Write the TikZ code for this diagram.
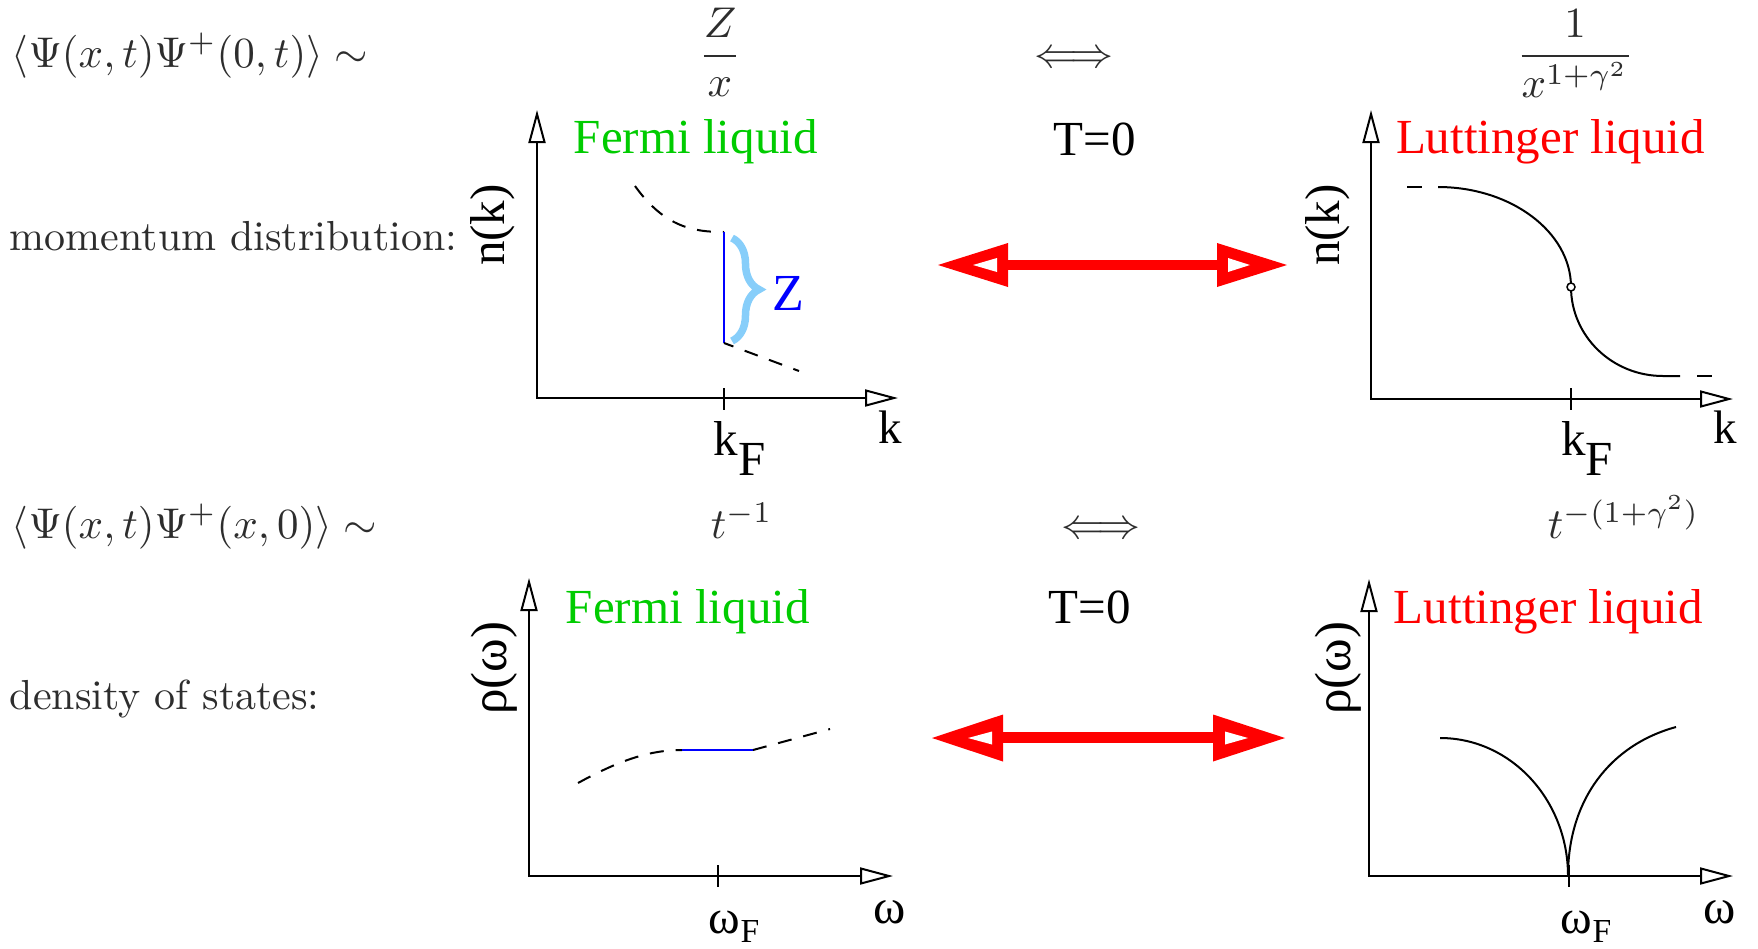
\documentclass[tikz,border=0pt]{standalone}
\usepackage{fontspec}
\newfontfamily\tms{Liberation Serif}
\usetikzlibrary{arrows.meta,decorations.pathreplacing}
\definecolor{flgreen}{RGB}{0,204,0}
\definecolor{bracecol}{RGB}{135,206,250}
\definecolor{cmtext}{RGB}{45,45,45}
\begin{document}
\begin{tikzpicture}[x=1pt,y=-1pt,
  axisln/.style={line width=2pt,line join=miter,
    {Triangle[open,length=33pt,width=17pt]}-{Triangle[open,length=33pt,width=17pt]}},
  tickln/.style={line width=2pt},
  curveln/.style={line width=2pt},
  dashcurve/.style={line width=2pt,dash pattern=on 14pt off 12pt},
  zline/.style={blue,line width=2pt},
  cmtxt/.style={text=cmtext,inner sep=0pt},
  lbl/.style={inner sep=0pt,font=\tms},
  bigarrow/.style={red,line width=10pt}]
\useasboundingbox (0,0) rectangle (1758,948);

% ---- formulas and texts (CM) ----
\node[cmtxt,scale=4.3,anchor=base west] (corr1) at (11,67) {$\langle\Psi(x,t)\Psi^+(0,t)\rangle\sim$};
\node[cmtxt,scale=4.3,anchor=base] (fracZ) at (720,67) {$\displaystyle\frac{Z}{x}$};
\node[cmtxt,scale=4.3,anchor=base] (eqv1) at (1074,67) {$\Longleftrightarrow$};
\node[cmtxt,scale=4.3,anchor=base] (fracL) at (1575,67) {$\displaystyle\frac{1}{x^{1+\gamma^2}}$};
\node[cmtxt,scale=4.2,anchor=base west] (md) at (9,250) {momentum distribution:};
\node[cmtxt,scale=4.3,anchor=base west] (corr2) at (11,538) {$\langle\Psi(x,t)\Psi^+(x,0)\rangle\sim$};
\node[cmtxt,scale=4.3,anchor=base west] (tF) at (710,538) {$t^{-1}$};
\node[cmtxt,scale=4.3,anchor=base] (eqv2) at (1101,538) {$\Longleftrightarrow$};
\node[cmtxt,scale=4.3,anchor=base west] (tL) at (1547,538) {$t^{-(1+\gamma^2)}$};
\node[cmtxt,scale=4.2,anchor=base west] (dos) at (9,709) {density of states:};

% ---- titles ----
\node[lbl,scale=4.9,text=flgreen,anchor=base west] (fl1) at (573,153) {Fermi liquid};
\node[lbl,scale=4.9,anchor=base west] (T1) at (1053,155) {T=0};
\node[lbl,scale=4.9,text=red,anchor=base west] (ll1) at (1395,153) {Luttinger liquid};
\node[lbl,scale=4.9,text=flgreen,anchor=base west] (fl2) at (565,623) {Fermi liquid};
\node[lbl,scale=4.9,anchor=base west] (T2) at (1048,623) {T=0};
\node[lbl,scale=4.9,text=red,anchor=base west] (ll2) at (1393,623) {Luttinger liquid};

% ---- axes ----
\coordinate (o1) at (537,398); \coordinate (y1) at (537,110); \coordinate (x1) at (898,398);
\coordinate (o2) at (1371,399); \coordinate (y2) at (1371,110); \coordinate (x2) at (1733,399);
\coordinate (o3) at (529,876); \coordinate (y3) at (529,578); \coordinate (x3) at (893,876);
\coordinate (o4) at (1369,876); \coordinate (y4) at (1369,579); \coordinate (x4) at (1733,876);
\draw[axisln] (y1) -- (o1) -- (x1);
\draw[axisln] (y2) -- (o2) -- (x2);
\draw[axisln] (y3) -- (o3) -- (x3);
\draw[axisln] (y4) -- (o4) -- (x4);
\coordinate (t1a) at (724,388); \coordinate (t1b) at (724,410);
\coordinate (t2a) at (1571,388); \coordinate (t2b) at (1571,410);
\coordinate (t3a) at (718,865); \coordinate (t3b) at (718,887);
\coordinate (t4a) at (1569,865); \coordinate (t4b) at (1569,887);
\draw[tickln] (t1a) -- (t1b);
\draw[tickln] (t2a) -- (t2b);
\draw[tickln] (t3a) -- (t3b);
\draw[tickln] (t4a) -- (t4b);

% ---- axis labels ----
\node[lbl,scale=4.9,rotate=90] (nk1) at (493,225) {n(k)};
\node[lbl,scale=4.9,rotate=90] (nk2) at (1328,225) {n(k)};
\node[lbl,scale=5.1,rotate=90] (rho1) at (494,668) {ρ(ω)};
\node[lbl,scale=5.1,rotate=90] (rho2) at (1338,668) {ρ(ω)};
\node[lbl,scale=4.9,anchor=base west] (kF1) at (713,455) {k\raisebox{-4.1pt}{F}};
\node[lbl,scale=4.9,anchor=base west] (kF2) at (1560,455) {k\raisebox{-4.1pt}{F}};
\node[lbl,scale=4.7,anchor=base west] (k1) at (878,443) {k};
\node[lbl,scale=4.7,anchor=base west] (k2) at (1713,443) {k};
\node[lbl,scale=4.8,anchor=base west] (wF1) at (708,933) {ω\raisebox{-1.9pt}{\scalebox{0.7}{F}}};
\node[lbl,scale=4.8,anchor=base west] (wF2) at (1560,933) {ω\raisebox{-1.9pt}{\scalebox{0.7}{F}}};
\node[lbl,scale=4.9,anchor=base west] (w1) at (873,923) {ω};
\node[lbl,scale=4.9,anchor=base west] (w2) at (1702,923) {ω};

% ---- Fermi liquid n(k) ----
\draw[dashcurve] (635,186) .. controls (665,228) and (695,232) .. (724,232);
\draw[zline] (724,232) -- (724,343);
\draw[dashcurve,dash phase=4pt] (724,343) -- (799,371);
\draw[bracecol,line width=7.5pt,decorate,decoration={brace,amplitude=27pt,aspect=0.5}] (732,238) -- (732,341);
\node[lbl,scale=5.2,text=blue,anchor=base west] (Zl) at (771,310) {Z};

% ---- Luttinger liquid n(k) ----
\draw[curveln] (1407,187) -- (1422,187);
\draw[curveln] (1438,187) .. controls (1511,187) and (1571,232) .. (1571,287)
   .. controls (1571,336) and (1612,376) .. (1663,376) -- (1680,376);
\draw[curveln] (1697,376) -- (1712,376);
\node[circle,draw,fill=white,line width=1.5pt,minimum size=8pt,inner sep=0pt] (kfpt) at (1571,287) {};

% ---- Fermi liquid DOS ----
\draw[dashcurve] (578,783) .. controls (620,760) and (650,750) .. (682,750);
\draw[zline] (682,750) -- (753,750);
\draw[dashcurve] (753,750) -- (830,729);

% ---- Luttinger liquid DOS ----
\draw[curveln] (1440,738) .. controls (1511,738) and (1568,800) .. (1568,876);
\draw[curveln] (1568,876) .. controls (1568,800) and (1610,745) .. (1676,727);

% ---- big red double arrows ----
\coordinate (ra1) at (938,265); \coordinate (rb1) at (1287,265);
\draw[bigarrow] (1006,265) -- (1219,265);
\fill[red] (ra1) -- (1008,243) -- (1008,287) -- cycle;
\fill[white] (973,265) -- (997,258) -- (997,272) -- cycle;
\fill[red] (rb1) -- (1217,243) -- (1217,287) -- cycle;
\fill[white] (1250,265) -- (1228,258) -- (1228,272) -- cycle;

\coordinate (ra2) at (932,738); \coordinate (rb2) at (1285,738);
\draw[bigarrow,line width=11pt] (1001,737.5) -- (1215,737.5);
\fill[red] (ra2) -- (1003,714.5) -- (1003,761.5) -- cycle;
\fill[white] (968,738) -- (992,731.5) -- (992,744.5) -- cycle;
\fill[red] (rb2) -- (1213,714.5) -- (1213,761.5) -- cycle;
\fill[white] (1248,738) -- (1225,731.5) -- (1225,744.5) -- cycle;
\end{tikzpicture}
\end{document}
